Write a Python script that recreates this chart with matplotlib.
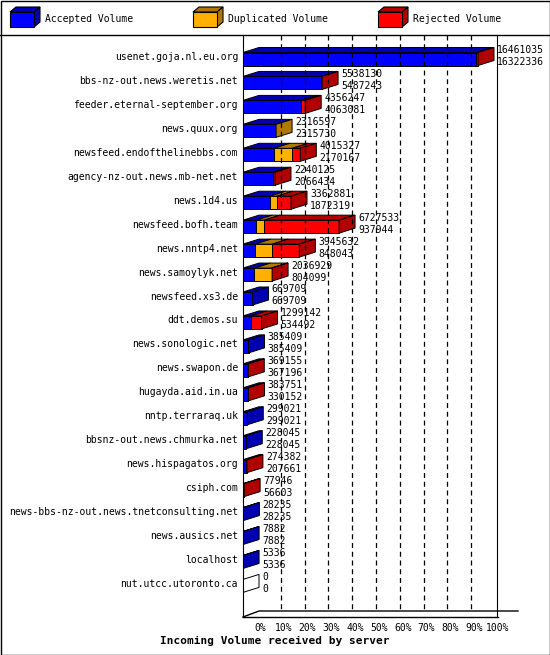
import numpy as np
import matplotlib
matplotlib.use("Agg")
import matplotlib.pyplot as plt
from matplotlib.patches import Polygon, Rectangle

servers = ["usenet.goja.nl.eu.org", "bbs-nz-out.news.weretis.net", "feeder.eternal-september.org",
           "news.quux.org", "newsfeed.endofthelinebbs.com", "agency-nz-out.news.mb-net.net",
           "news.1d4.us", "newsfeed.bofh.team", "news.nntp4.net", "news.samoylyk.net",
           "newsfeed.xs3.de", "ddt.demos.su", "news.sonologic.net", "news.swapon.de",
           "hugayda.aid.in.ua", "nntp.terraraq.uk", "bbsnz-out.news.chmurka.net",
           "news.hispagatos.org", "csiph.com", "news-bbs-nz-out.news.tnetconsulting.net",
           "news.ausics.net", "localhost", "nut.utcc.utoronto.ca"]
total = [16461035, 5538130, 4356247, 2316597, 4015327, 2240125, 3362881, 6727533, 3945632,
         2036929, 669709, 1299142, 385409, 369155, 383751, 299021, 228045, 274382, 77946,
         28235, 7882, 5336, 0]
accepted = [16322336, 5487243, 4063081, 2315730, 2170167, 2066434, 1872319, 937944, 848043,
            804099, 669709, 534492, 385409, 367196, 330152, 299021, 228045, 207661, 56603,
            28235, 7882, 5336, 0]
duplicated = [0, 0, 0, 867, 1260000, 0, 500000, 540000, 1200000, 1200000, 0, 0, 0, 0, 0, 0,
              0, 0, 0, 0, 0, 0, 0]
rejected = [t - a - d for t, a, d in zip(total, accepted, duplicated)]

front = ["#0000ff", "#ffb000", "#ff0000"]
dark = ["#0000b0", "#b07800", "#b00000"]
labels = ["Accepted Volume", "Duplicated Volume", "Rejected Volume"]

W, H = 550, 655
fig = plt.figure(figsize=(W / 100, H / 100), dpi=100)
font = dict(family="DejaVu Sans Mono", fontsize=7)

# plot area (drawn first, transparent)
L, R, T, B = 243, 497, 35, 617
ax = fig.add_axes([L / W, 1 - B / H, (R - L) / W, (B - T) / H])
ax.patch.set_alpha(0)
V = 16461035 * (R - L) / 235
ax.set_xlim(0, V)
ax.set_ylim(B, T)
ax.set_xticks([])
ax.set_yticks([])
for s in ["top", "bottom"]:
    ax.spines[s].set_visible(False)

# figure-level overlay in pixel coords
bg = fig.add_axes([0, 0, 1, 1])
bg.patch.set_alpha(0)
bg.set_xlim(0, W)
bg.set_ylim(H, 0)
bg.axis("off")
bg.add_patch(Rectangle((0.5, 0.5), W - 1, H - 1, fill=False, lw=1, color="k"))
bg.plot([0, W], [35, 35], color="k", lw=1)
for i, x0 in enumerate([10, 193, 378]):
    bg.add_patch(Polygon([(x0, 12), (x0 + 24, 12), (x0 + 30, 7), (x0 + 6, 7)],
                         facecolor=dark[i], edgecolor="k", lw=0.8))
    bg.add_patch(Polygon([(x0 + 24, 12), (x0 + 30, 7), (x0 + 30, 22), (x0 + 24, 27)],
                         facecolor=dark[i], edgecolor="k", lw=0.8))
    bg.add_patch(Rectangle((x0, 12), 24, 15, facecolor=front[i], edgecolor="k", lw=0.8))
    bg.text(x0 + 35, 19, labels[i], va="center", ha="left", **font)
bg.text(275, 641, "Incoming Volume received by server", ha="center", va="center",
        fontweight="bold", family="DejaVu Sans Mono", fontsize=8)

px = V / (R - L)
dx, dy, bh = 16 * px, 5, 13

# dashed grid + percent labels
for k in range(11):
    xp = 14 + 23.8 * k
    if 1 <= k <= 9:
        ax.plot([xp * px] * 2, [T, B - 8], ls=(0, (4, 3)), color="k", lw=0.9)
    bg.text(L + xp + 3, 628, f"{k * 10}%", ha="center", va="center", **font)
bg.plot([L, L + 16, L + 275], [B, B - 6, B - 6], color="k", lw=1)
bg.plot([L, L + 255], [B, B], color="k", lw=1)

for i, name in enumerate(servers):
    yc = 57 + 23.95 * i
    y0 = yc - bh / 2 + 2
    bg.text(238, yc, name, ha="right", va="center", **font)
    segs = [accepted[i], duplicated[i], rejected[i]]
    x = 0
    last = 0
    for j, v in enumerate(segs):
        if v <= 0:
            continue
        ax.add_patch(Polygon([(x, y0), (x + v, y0), (x + v + dx, y0 - dy), (x + dx, y0 - dy)],
                             facecolor=dark[j], edgecolor="k", lw=0.7))
        ax.add_patch(Rectangle((x, y0), v, bh, facecolor=front[j], edgecolor="k", lw=0.7))
        x += v
        last = j
    ax.add_patch(Polygon([(x, y0), (x + dx, y0 - dy), (x + dx, y0 + bh - dy), (x, y0 + bh)],
                         facecolor=dark[last] if total[i] else "white", edgecolor="k", lw=0.7))
    tx = L + (x + dx) / px + 3
    bg.text(tx, yc - 7, str(total[i]), ha="left", va="center", **font)
    bg.text(tx, yc + 5, str(accepted[i]), ha="left", va="center", **font)

fig.savefig("out.png", dpi=100)
